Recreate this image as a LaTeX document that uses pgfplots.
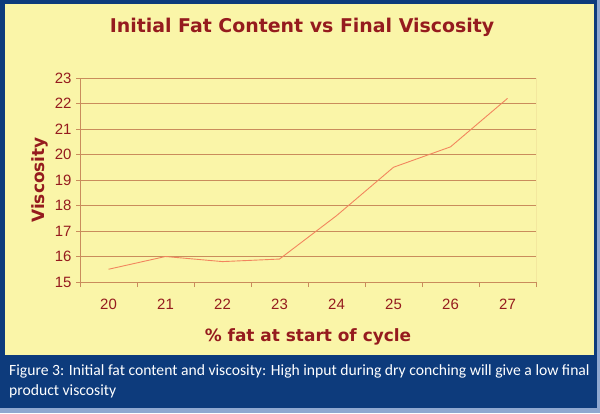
\documentclass[border=0pt]{standalone}
\usepackage{pgfplots}
\pgfplotsset{compat=1.18}
\usepackage{fontspec}
\setmainfont{Liberation Sans}
\newfontfamily\boldfont{DejaVu Sans}
\newfontfamily\capfont{Carlito}
\definecolor{navy}{HTML}{0D3B7C}
\definecolor{lightb}{HTML}{8FA8D0}
\definecolor{bgy}{HTML}{FAF5A8}
\definecolor{darkred}{HTML}{951B1E}
\definecolor{gridc}{HTML}{C98C5C}
\definecolor{linec}{HTML}{F2855E}
\begin{document}
\begin{tikzpicture}[x=1bp,y=1bp]
\fill[lightb] (0,0) rectangle (600,413);
\fill[navy] (0,5) rectangle (597,413);
\fill[bgy] (5,58) rectangle (594,409);
\node[font=\boldfont\bfseries\fontsize{19}{22}\selectfont, text=darkred] at (302,386) {Initial Fat Content vs Final Viscosity};
\node[font=\capfont\fontsize{15.7}{21}\selectfont, text=white, anchor=north west, align=left, inner sep=0pt] at (9,49) {Figure 3: Initial fat content and viscosity: High input during dry conching will give a low final\\ product viscosity};
\begin{axis}[
  at={(80bp,131bp)}, anchor=south west,
  scale only axis, width=456bp, height=204bp,
  xmin=-0.5, xmax=7.5, ymin=15, ymax=23,
  ytick={15,...,23},
  xtick={0,...,7},
  xticklabels={20,21,22,23,24,25,26,27},
  minor xtick={-0.5,0.5,...,7.5},
  major x tick style={draw=none},
  minor x tick style={draw=gridc, line width=0.8pt},
  xtick pos=bottom, ytick pos=left,
  tick align=outside,
  minor tick length=5bp, major tick length=4bp,
  ytick style={draw=gridc, line width=0.8pt},
  ymajorgrids, grid style={gridc, line width=0.8pt},
  axis line style={gridc, line width=0.8pt},
  axis x line*=bottom, axis y line*=left,
  tick label style={font=\fontsize{15}{17}\selectfont, text=darkred},
  /pgf/number format/assume math mode=true,
  xticklabel style={yshift=-10bp},
  yticklabel style={xshift=-1bp},
  xlabel={\% fat at start of cycle},
  ylabel={Viscosity},
  label style={font=\boldfont\bfseries\fontsize{17}{19}\selectfont, text=darkred},
  xlabel style={yshift=-12bp},
  ylabel style={yshift=0bp},
]
\draw[gridc, line width=0.8pt] (axis cs:7.5,15) -- (axis cs:7.5,23);
\addplot[linec, line width=0.9pt, mark=none] coordinates {
(0,15.5) (1,16.0) (2,15.8) (3,15.9) (4,17.6) (5,19.5) (6,20.3) (7,22.2)};
\end{axis}
\end{tikzpicture}
\end{document}
